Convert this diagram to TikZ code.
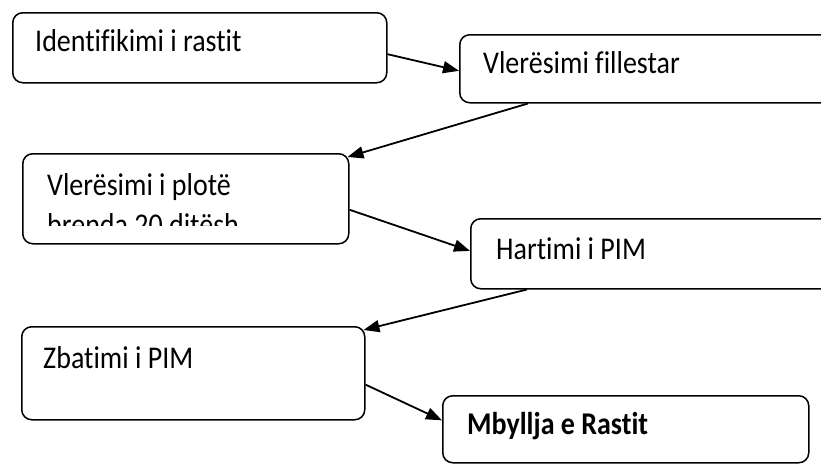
\documentclass[tikz,border=0pt]{standalone}
\usepackage{fontspec}
\setmainfont[Ligatures=CommonOff]{Carlito}
\usetikzlibrary{arrows.meta,calc}
\newcommand\vstretch[1]{\scalebox{1}[1.13]{#1}}
\begin{document}
\begin{tikzpicture}[x=1pt,y=-1pt,
  box/.style={draw, line width=1.5pt, rounded corners=10pt, anchor=north west, inner sep=0pt},
  lbl/.style={anchor=base west, inner sep=0pt, font=\fontsize{28}{34}\selectfont},
  conn/.style={line width=1.8pt, -{Triangle[length=16pt,width=12pt]}}]
\clip (0,0) rectangle (821,464);
\node[box, minimum width=374pt, minimum height=70pt] (b1) at (12,12) {};
\node[box, minimum width=400pt, minimum height=68pt] (b2) at (459,34) {};
\node[box, minimum width=326pt, minimum height=90pt] (b3) at (22,153) {};
\node[box, minimum width=400pt, minimum height=70pt] (b4) at (470,218) {};
\node[box, minimum width=343pt, minimum height=93pt] (b5) at (21,326) {};
\node[box, minimum width=366pt, minimum height=67pt] (b6) at (442,395) {};
\node[lbl] (t1) at (35,51) {\vstretch{Identifikimi i rastit}};
\node[lbl] (t2) at (483,73) {\vstretch{Vlerësimi fillestar}};
\node[lbl] (t3a) at (47,195) {\vstretch{Vlerësimi i plotë}};
\begin{scope}
  \clip (30,200) rectangle (340,225);
  \node[lbl] (t3b) at (47,235) {\vstretch{brenda 20 ditësh}};
\end{scope}
\node[lbl] (t4) at (496,259) {\vstretch{Hartimi i PIM}};
\node[lbl] (t5) at (43,368) {\vstretch{Zbatimi i PIM}};
\node[lbl, font=\fontsize{28}{34}\selectfont\bfseries] (t6) at (467,434) {\vstretch{Mbyllja e Rastit}};
\draw[conn] ($(b1.north east)!0.59!(b1.south east)$) -- ($(b2.north west)!0.53!(b2.south west)$);
\draw[conn] ($(b2.south west)+(69,0)$) -- ($(b3.north east)+(-2,4)$);
\draw[conn] ($(b3.north east)!0.62!(b3.south east)$) -- ($(b4.north west)!0.46!(b4.south west)$);
\draw[conn] ($(b4.south west)+(57,0)$) -- ($(b5.north east)+(-2,4)$);
\draw[conn] ($(b5.north east)!0.62!(b5.south east)$) -- ($(b6.north west)!0.37!(b6.south west)$);
\end{tikzpicture}
\end{document}
